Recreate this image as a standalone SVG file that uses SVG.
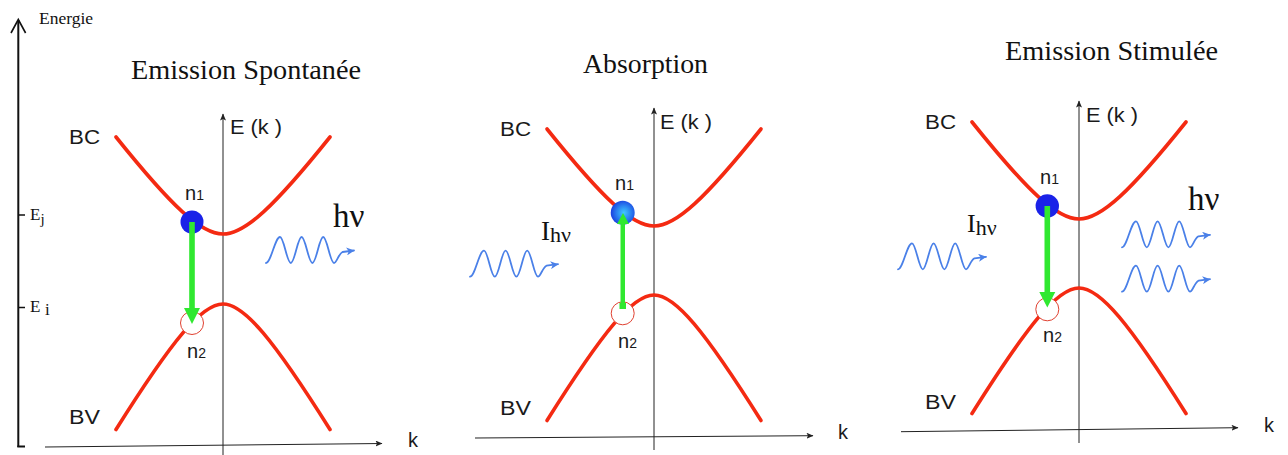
<svg xmlns="http://www.w3.org/2000/svg" width="1288" height="455" viewBox="0 0 1288 455">
<defs>
<style>
.band{fill:none;stroke:#f42a12;stroke-width:3.6;stroke-linecap:round}
.axis{stroke:#222;stroke-width:1;fill:none}
.wave{fill:none;stroke:#4a80e8;stroke-width:1.8;stroke-linecap:round;stroke-linejoin:round}
.lbl{font-family:"Liberation Sans",Arial,sans-serif;font-size:20px;fill:#1a1a1a}
.ser{font-family:"Liberation Serif","Times New Roman",serif;fill:#111}
.title{font-family:"Liberation Serif","Times New Roman",serif;font-size:28px;fill:#111}
.e{fill:#1a22e8}
.h{fill:#fff;stroke:#e04030;stroke-width:1}
.g{fill:#30e830}
</style>
<marker id="ah" markerWidth="8" markerHeight="6" refX="6.5" refY="3" orient="auto" markerUnits="userSpaceOnUse"><path d="M0,0 L7,3 L0,6 L1.5,3 z" fill="#222"/></marker>
<marker id="wah" markerWidth="9" markerHeight="8" refX="7.5" refY="4" orient="auto" markerUnits="userSpaceOnUse"><path d="M0,0 L8,4 L0,8 L2.2,4 z" fill="#4a80e8"/></marker>
<radialGradient id="eg" cx="0.55" cy="0.5" r="0.55"><stop offset="0" stop-color="#40c8ff"/><stop offset="0.55" stop-color="#2a80f0"/><stop offset="1" stop-color="#1a40e0"/></radialGradient>
<path id="bc" class="band" d="M-107,-97 C-51.1,-27.3 -22,0 0,0 C22,0 51.1,-27.3 107,-97"/>
<path id="bv" class="band" d="M-107,125.5 C-50.2,35.2 -21.1,0 0,0 C21.1,0 50.2,35.2 107,125.5"/>
<path id="wave" class="wave" marker-end="url(#wah)" d="M0,0 C5,0 9,-26 14,-26 C17.9,-26 20.9,0 24.8,0 C28.7,0 31.7,-26 35.6,-26 C39.5,-26 42.5,0 46.4,0 C50.3,0 53.3,-26 57.2,-26 C61.1,-26 64.1,0 68,0 C70.5,0 72.5,-9 76.5,-11 L88,-12.5"/>
</defs>

<g id="energy-axis">
<line x1="18.3" y1="447" x2="18.3" y2="20" stroke="#111" stroke-width="2"/>
<polyline points="11,33 18.3,19.5 25.6,33" fill="none" stroke="#111" stroke-width="1.6"/>
<line x1="17.3" y1="446.5" x2="25" y2="446.5" stroke="#111" stroke-width="2"/>
<text class="ser" x="39" y="24" font-size="17.5">Energie</text>
<line x1="18" y1="215" x2="25" y2="215" stroke="#111" stroke-width="1.5"/>
<line x1="18" y1="307.5" x2="25" y2="307.5" stroke="#111" stroke-width="1.5"/>
<text class="ser" x="30" y="220" font-size="17">E<tspan font-size="15" dy="4">j</tspan></text>
<text class="ser" x="30" y="311.7" font-size="17">E<tspan dx="4.5" dy="3">i</tspan></text>
</g>

<g id="connectors">
<line class="axis" x1="223" y1="455" x2="223" y2="114" marker-end="url(#ah)"/>
<line class="axis" x1="45" y1="447" x2="382" y2="443.5" marker-end="url(#ah)"/>
<line class="axis" x1="654" y1="450" x2="654" y2="108" marker-end="url(#ah)" stroke="#555"/>
<line class="axis" x1="475" y1="438" x2="813" y2="435.7" marker-end="url(#ah)"/>
<line class="axis" x1="1079" y1="443" x2="1079" y2="101" marker-end="url(#ah)"/>
<line class="axis" x1="901" y1="431.7" x2="1238" y2="427.7" marker-end="url(#ah)"/>
</g>

<g id="panel-spontanee">
<text class="title" x="131" y="79" textLength="230" lengthAdjust="spacingAndGlyphs">Emission Spontanée</text>
<use href="#bc" x="223" y="234"/>
<use href="#bv" x="223" y="304"/>
<text class="lbl" x="230" y="134" textLength="52" lengthAdjust="spacingAndGlyphs">E (k )</text>
<text class="lbl" x="408" y="447">k</text>
<text class="lbl" x="69" y="144" textLength="31" lengthAdjust="spacingAndGlyphs">BC</text>
<text class="lbl" x="69" y="424" textLength="31" lengthAdjust="spacingAndGlyphs">BV</text>
<text class="lbl" x="185" y="200">n<tspan font-size="14">1</tspan></text>
<text class="lbl" x="187" y="358">n<tspan font-size="14">2</tspan></text>
<circle class="e" cx="192" cy="222" r="11.5"/>
<circle class="h" cx="192" cy="323" r="11.5"/>
<path class="g" d="M189.2,222 H194.8 V308 H200 L192,324 L184,308 H189.2 Z"/>
<use href="#wave" x="266" y="263"/>
<text class="ser" x="333" y="227" font-size="33">hν</text>
</g>

<g id="panel-absorption">
<text class="title" x="583" y="73.3" font-size="26" textLength="125" lengthAdjust="spacingAndGlyphs">Absorption</text>
<use href="#bc" x="654" y="226"/>
<use href="#bv" x="654" y="295"/>
<text class="lbl" x="660" y="129" textLength="52" lengthAdjust="spacingAndGlyphs">E (k )</text>
<text class="lbl" x="838" y="439">k</text>
<text class="lbl" x="500" y="136" textLength="31" lengthAdjust="spacingAndGlyphs">BC</text>
<text class="lbl" x="500" y="415" textLength="31" lengthAdjust="spacingAndGlyphs">BV</text>
<text class="lbl" x="615" y="190">n<tspan font-size="14">1</tspan></text>
<text class="lbl" x="618" y="348">n<tspan font-size="14">2</tspan></text>
<circle cx="622.7" cy="212.7" r="12" fill="url(#eg)"/>
<circle class="h" cx="622.7" cy="313.3" r="11.5"/>
<path class="g" d="M620.5,308 V224 H617 L623,213 L629,224 H625 V308 Z"/>
<rect class="g" x="619.5" y="303" width="6.5" height="6"/>
<use href="#wave" x="470" y="276.7"/>
<text class="ser" x="541" y="240" font-size="27">I<tspan font-size="22" dy="2">hν</tspan></text>
</g>

<g id="panel-stimulee">
<text class="title" x="1005" y="60" textLength="213" lengthAdjust="spacingAndGlyphs">Emission Stimulée</text>
<use href="#bc" x="1079" y="219"/>
<use href="#bv" x="1079" y="288"/>
<text class="lbl" x="1086" y="122" textLength="52" lengthAdjust="spacingAndGlyphs">E (k )</text>
<text class="lbl" x="1264" y="432">k</text>
<text class="lbl" x="925" y="129" textLength="31" lengthAdjust="spacingAndGlyphs">BC</text>
<text class="lbl" x="925" y="408.5" textLength="31" lengthAdjust="spacingAndGlyphs">BV</text>
<text class="lbl" x="1040" y="184">n<tspan font-size="14">1</tspan></text>
<text class="lbl" x="1043" y="342">n<tspan font-size="14">2</tspan></text>
<circle class="e" cx="1047.3" cy="206" r="11.7"/>
<circle class="h" cx="1047.3" cy="309.3" r="11.5"/>
<path class="g" d="M1044.5,206 H1050.1 V292 H1055.3 L1047.3,307.5 L1039.3,292 H1044.5 Z"/>
<use href="#wave" x="898" y="269.3"/>
<use href="#wave" x="1122" y="247.3"/>
<use href="#wave" x="1122" y="291.7"/>
<text class="ser" x="1188" y="210" font-size="33">hν</text>
<text class="ser" x="967" y="232" font-size="26">I<tspan font-size="22" dy="3">hν</tspan></text>
</g>
</svg>
